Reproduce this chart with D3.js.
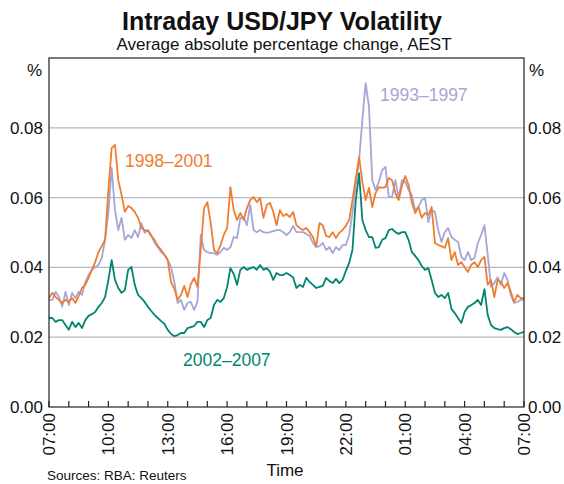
<!DOCTYPE html>
<html>
<head>
<meta charset="utf-8">
<script src="https://cdn.jsdelivr.net/npm/d3@7"></script>
<style>
  body { margin: 0; background: #fff; }
  svg { font-family: "Liberation Sans", Arial, sans-serif; display: block; }
</style>
</head>
<body>
<div id="root"></div>
<script>
// average absolute % change, 10 minute buckets from 07:00 to 07:00 AEST
var series9801 = [
    0.0312,0.0327,0.0315,0.0307,0.0298,0.0307,0.0301,0.0312,0.0298,0.0318,
    0.0341,0.0350,0.0370,0.0393,0.0415,0.0444,0.0461,0.0479,0.0622,0.0742,
    0.0751,0.0650,0.0607,0.0559,0.0576,0.0570,0.0559,0.0542,0.0513,0.0507,
    0.0504,0.0490,0.0479,0.0461,0.0450,0.0436,0.0421,0.0358,0.0338,0.0307,
    0.0321,0.0347,0.0315,0.0352,0.0370,0.0344,0.0450,0.0570,0.0587,0.0530,
    0.0450,0.0441,0.0464,0.0493,0.0513,0.0630,0.0564,0.0536,0.0556,0.0536,
    0.0570,0.0593,0.0602,0.0587,0.0599,0.0542,0.0579,0.0585,0.0559,0.0521,
    0.0564,0.0547,0.0553,0.0544,0.0559,0.0521,0.0513,0.0507,0.0513,0.0501,
    0.0487,0.0461,0.0527,0.0521,0.0490,0.0487,0.0501,0.0484,0.0499,0.0507,
    0.0519,0.0536,0.0593,0.0656,0.0716,0.0645,0.0593,0.0628,0.0573,0.0613,
    0.0630,0.0628,0.0630,0.0656,0.0650,0.0613,0.0593,0.0633,0.0662,0.0636,
    0.0585,0.0556,0.0573,0.0542,0.0556,0.0550,0.0573,0.0470,0.0464,0.0461,
    0.0456,0.0484,0.0421,0.0444,0.0407,0.0415,0.0401,0.0387,0.0407,0.0415,
    0.0401,0.0421,0.0430,0.0350,0.0364,0.0315,0.0364,0.0358,0.0341,0.0355,
    0.0330,0.0301,0.0321,0.0312,0.0312
];

var series9397 = [
    0.0307,0.0307,0.0330,0.0315,0.0287,0.0330,0.0292,0.0327,0.0312,0.0330,
    0.0321,0.0358,0.0378,0.0393,0.0401,0.0407,0.0427,0.0479,0.0556,0.0685,
    0.0564,0.0507,0.0542,0.0479,0.0493,0.0484,0.0507,0.0487,0.0527,0.0499,
    0.0507,0.0493,0.0470,0.0458,0.0444,0.0436,0.0421,0.0401,0.0358,0.0298,
    0.0307,0.0278,0.0298,0.0301,0.0278,0.0301,0.0493,0.0450,0.0444,0.0441,
    0.0441,0.0436,0.0444,0.0456,0.0450,0.0458,0.0487,0.0484,0.0542,0.0544,
    0.0521,0.0579,0.0507,0.0501,0.0507,0.0501,0.0499,0.0501,0.0504,0.0507,
    0.0507,0.0501,0.0493,0.0501,0.0519,0.0501,0.0501,0.0501,0.0496,0.0490,
    0.0470,0.0458,0.0461,0.0470,0.0450,0.0458,0.0441,0.0458,0.0450,0.0464,
    0.0464,0.0493,0.0556,0.0636,0.0708,0.0822,0.0928,0.0860,0.0650,0.0622,
    0.0645,0.0679,0.0688,0.0602,0.0602,0.0650,0.0599,0.0650,0.0645,0.0622,
    0.0607,0.0564,0.0573,0.0593,0.0599,0.0530,0.0564,0.0559,0.0507,0.0473,
    0.0501,0.0513,0.0487,0.0479,0.0473,0.0430,0.0421,0.0444,0.0421,0.0427,
    0.0470,0.0493,0.0521,0.0436,0.0344,0.0355,0.0372,0.0350,0.0384,0.0364,
    0.0321,0.0298,0.0301,0.0307,0.0307
];

var series0207 = [
    0.0255,0.0255,0.0244,0.0249,0.0249,0.0235,0.0221,0.0244,0.0229,0.0241,
    0.0226,0.0249,0.0261,0.0266,0.0272,0.0287,0.0298,0.0315,0.0364,0.0421,
    0.0364,0.0341,0.0327,0.0335,0.0393,0.0401,0.0350,0.0321,0.0312,0.0301,
    0.0287,0.0275,0.0264,0.0255,0.0246,0.0238,0.0221,0.0209,0.0203,0.0206,
    0.0212,0.0212,0.0226,0.0229,0.0232,0.0244,0.0244,0.0229,0.0249,0.0255,
    0.0292,0.0307,0.0301,0.0312,0.0344,0.0398,0.0381,0.0350,0.0393,0.0401,
    0.0393,0.0398,0.0401,0.0393,0.0407,0.0393,0.0398,0.0387,0.0364,0.0384,
    0.0378,0.0378,0.0384,0.0378,0.0372,0.0341,0.0350,0.0344,0.0370,0.0358,
    0.0350,0.0341,0.0344,0.0347,0.0370,0.0361,0.0355,0.0367,0.0355,0.0364,
    0.0390,0.0413,0.0450,0.0593,0.0670,0.0536,0.0507,0.0487,0.0487,0.0456,
    0.0458,0.0479,0.0484,0.0507,0.0510,0.0501,0.0496,0.0501,0.0501,0.0479,
    0.0444,0.0433,0.0421,0.0404,0.0393,0.0398,0.0364,0.0327,0.0315,0.0321,
    0.0312,0.0327,0.0281,0.0269,0.0255,0.0241,0.0272,0.0287,0.0292,0.0298,
    0.0307,0.0292,0.0338,0.0264,0.0235,0.0226,0.0223,0.0221,0.0226,0.0229,
    0.0223,0.0215,0.0209,0.0212,0.0215
];

var seriesNames = ["1993–1997", "1998–2001", "2002–2007"];
var yTicks = [0, 0.02, 0.04, 0.06, 0.08, 0.10];
var xTickLabels = ["07:00", "10:00", "13:00", "16:00", "19:00", "22:00", "01:00", "04:00", "07:00"];

var stepMinutes = 10;

var width = 564,
    height = 484,
    margin = { top: 58, right: 40, bottom: 77, left: 49 };

var colors = {
    "1993–1997": "#a3a6d6",
    "1998–2001": "#ef7d31",
    "2002–2007": "#008670"
};

var svg = d3.select("#root").append("svg")
    .attr("width", width)
    .attr("height", height);

// scales: minutes since 07:00 on x
var x = d3.scaleLinear()
    .domain([0, 24 * 60])
    .range([margin.left, width - margin.right]);

var y = d3.scaleLinear()
    .domain([0, 0.10])
    .range([height - margin.bottom, margin.top]);

// gridlines
svg.append("g").classed("grid", true)
    .selectAll("line")
    .data(yTicks.slice(1, -1))
    .enter().append("line")
    .attr("x1", x.range()[0])
    .attr("x2", x.range()[1])
    .attr("y1", d => y(d))
    .attr("y2", d => y(d))
    .attr("stroke", "#b4b8c6")
    .attr("stroke-width", 1.2);

// series
var seriesData = {
    "1993–1997": series9397,
    "1998–2001": series9801,
    "2002–2007": series0207
};

var line = d3.line()
    .x((d, i) => x(i * stepMinutes))
    .y(d => y(d));

["2002–2007", "1993–1997", "1998–2001"].forEach(function (name) {
    svg.append("path")
        .datum(seriesData[name])
        .attr("fill", "none")
        .attr("stroke", colors[name])
        .attr("stroke-width", 1.8)
        .attr("stroke-linejoin", "round")
        .attr("d", line);
});

// frame
svg.append("rect")
    .attr("x", x.range()[0])
    .attr("y", y(0.10))
    .attr("width", x.range()[1] - x.range()[0])
    .attr("height", y(0) - y(0.10))
    .attr("fill", "none")
    .attr("stroke", "#222")
    .attr("stroke-width", 1.2);

// hourly ticks along the bottom, pointing up
var hours = d3.range(0, 25);
svg.append("g").classed("x-ticks", true)
    .selectAll("line")
    .data(hours)
    .enter().append("line")
    .attr("x1", d => x(d * 60))
    .attr("x2", d => x(d * 60))
    .attr("y1", y(0))
    .attr("y2", y(0) - 6)
    .attr("stroke", "#222")
    .attr("stroke-width", 1.2);

// x labels, rotated
svg.append("g").classed("x-labels", true)
    .selectAll("text")
    .data(xTickLabels)
    .enter().append("text")
    .attr("transform", (d, i) => "translate(" + (x(i * 180) + 6) + "," + (y(0) + 6) + ") rotate(-90)")
    .attr("text-anchor", "end")
    .attr("font-size", 17)
    .attr("fill", "#111")
    .text(d => d);

// y labels on both sides
var fmt = d3.format(".2f");
var yLab = svg.append("g").classed("y-labels", true).attr("font-size", 17).attr("fill", "#111");
yLab.selectAll(".left")
    .data(yTicks.slice(0, -1))
    .enter().append("text")
    .attr("x", x.range()[0] - 6)
    .attr("y", d => y(d) + 6)
    .attr("text-anchor", "end")
    .text(fmt);
yLab.selectAll(".right")
    .data(yTicks.slice(0, -1))
    .enter().append("text")
    .attr("x", x.range()[1] + 4)
    .attr("y", d => y(d) + 6)
    .text(fmt);
yLab.append("text").attr("x", x.range()[0] - 7).attr("y", 76).attr("text-anchor", "end").text("%");
yLab.append("text").attr("x", x.range()[1] + 5).attr("y", 76).text("%");

// series labels
var seriesLabels = [
    { name: "1998–2001", x: 125, y: 167 },
    { name: "1993–1997", x: 380, y: 101 },
    { name: "2002–2007", x: 183, y: 366 }
];
svg.append("g").selectAll("text")
    .data(seriesLabels)
    .enter().append("text")
    .attr("x", d => d.x)
    .attr("y", d => d.y)
    .attr("font-size", 17.5)
    .attr("fill", d => colors[d.name])
    .text(d => d.name);

// titles and notes
svg.append("text")
    .attr("x", 282).attr("y", 30)
    .attr("text-anchor", "middle")
    .attr("font-size", 25)
    .attr("font-weight", "bold")
    .attr("fill", "#111")
    .text("Intraday USD/JPY Volatility");

svg.append("text")
    .attr("x", 284).attr("y", 50)
    .attr("text-anchor", "middle")
    .attr("font-size", 17)
    .attr("fill", "#111")
    .text("Average absolute percentage change, AEST");

svg.append("text")
    .attr("x", 285).attr("y", 476)
    .attr("text-anchor", "middle")
    .attr("font-size", 17)
    .attr("fill", "#111")
    .text("Time");

svg.append("text")
    .attr("x", 47).attr("y", 480)
    .attr("font-size", 13.5)
    .attr("fill", "#111")
    .text("Sources: RBA: Reuters");
</script>
</body>
</html>
